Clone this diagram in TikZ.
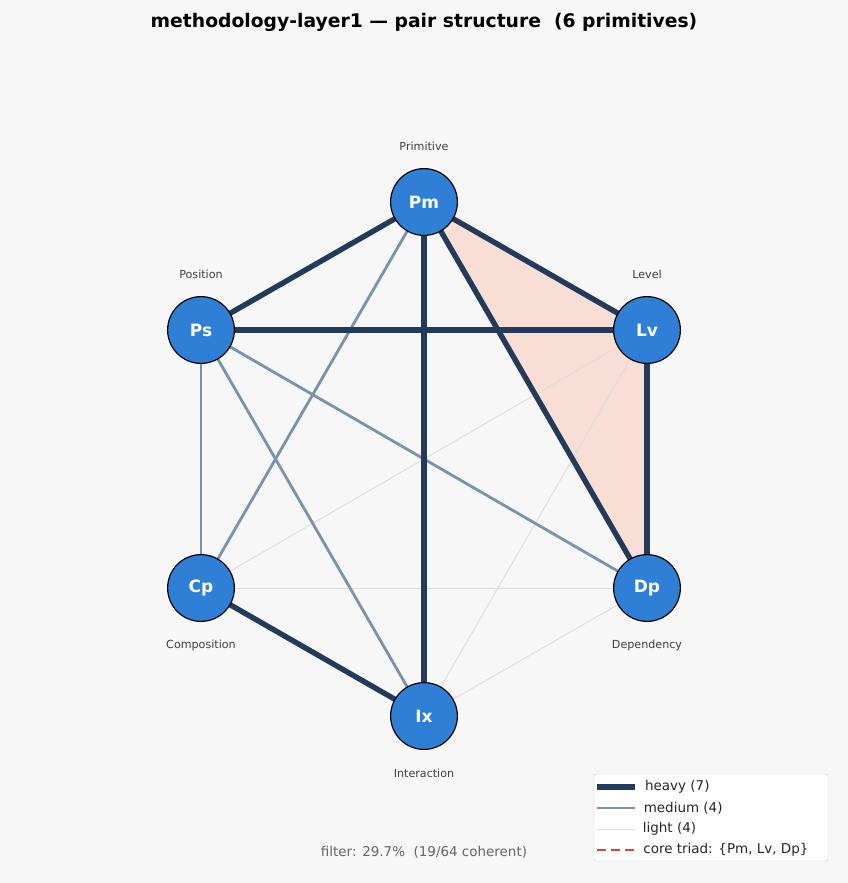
\documentclass[tikz,border=0pt]{standalone}
\usepackage{fontspec}
\setmainfont{DejaVu Sans}
\definecolor{bgc}{HTML}{F7F7F7}
\definecolor{heavyc}{HTML}{233A5A}
\definecolor{mediumc}{HTML}{7A93AD}
\definecolor{lightc}{HTML}{DDDDDD}
\definecolor{nodec}{HTML}{2F7FD6}
\definecolor{triadc}{HTML}{F9DED5}
\definecolor{corec}{HTML}{D9453A}
\begin{document}
\begin{tikzpicture}[x=0.03cm,y=-0.03cm,
  prim/.style={circle,draw=black,line width=1pt,fill=nodec,minimum size=57pt,inner sep=0pt,
    text=white,font=\fontsize{14.5}{16}\selectfont\bfseries},
  primcap/.style={font=\fontsize{9.5}{11}\selectfont,text=black!75},
  heavy/.style={draw=heavyc,line width=4.6pt},
  medium/.style={draw=mediumc,line width=2.4pt},
  light/.style={draw=lightc,line width=0.8pt},
  legtxt/.style={font=\fontsize{11.5}{13}\selectfont,anchor=west,text=black!85}]
\fill [bgc] (0,0) rectangle (848,883);
\useasboundingbox (0,0) rectangle (848,883);
\node [font=\fontsize{16}{18}\selectfont\bfseries] (title) at (424,22) {methodology-layer1 — pair structure\ \ (6 primitives)};
% vertices
\coordinate (pPm) at (424,202);
\coordinate (pPs) at (201,330);
\coordinate (pLv) at (647,330);
\coordinate (pCp) at (201,588);
\coordinate (pDp) at (647,588);
\coordinate (pIx) at (424,716);
\fill [triadc] (pPm) -- (pLv) -- (pDp) -- cycle;
% light
\draw [light] (pLv) -- (pCp);
\draw [light] (pLv) -- (pIx);
\draw [light] (pCp) -- (pDp);
\draw [light] (pDp) -- (pIx);
% medium
\draw [medium] (pPm) -- (pCp);
\draw [medium] (pPs) -- (pCp);
\draw [medium] (pPs) -- (pIx);
\draw [medium] (pPs) -- (pDp);
% heavy
\foreach \a/\b in {Pm/Ps,Pm/Lv,Pm/Ix,Pm/Dp,Ps/Lv,Lv/Dp,Cp/Ix}
  \draw [heavy] (p\a) -- (p\b);
% nodes
\foreach \n in {Pm,Ps,Lv,Cp,Dp,Ix}
  \node [prim] (\n) at (p\n) {\n};
\node [primcap] (cPm) at (424,146) {Primitive};
\node [primcap] (cPs) at (201,274) {Position};
\node [primcap] (cLv) at (647,274) {Level};
\node [primcap] (cCp) at (201,645) {Composition};
\node [primcap] (cDp) at (647,645) {Dependency};
\node [primcap] (cIx) at (424,773) {Interaction};
\node [font=\fontsize{11.5}{13}\selectfont,text=black!60] (filt) at (424,852) {filter: 29.7\%\ \ (19/64 coherent)};
% legend
\draw [black!20,fill=white,rounded corners=2pt] (594,774) rectangle (828,861);
\coordinate (l1) at (597,787);
\coordinate (l2) at (597,808);
\coordinate (l3) at (597,829);
\coordinate (l4) at (597,850);
\draw [heavy] (l1) -- ++(38,0) node [legtxt,xshift=3pt] {heavy (7)};
\draw [medium] (l2) -- ++(38,0) node [legtxt,xshift=3pt] {medium (4)};
\draw [light] (l3) -- ++(38,0) node [legtxt,xshift=3pt] {light (4)};
\draw [corec,line width=1.6pt,dash pattern=on 8pt off 4pt] (l4) -- ++(38,0) node [legtxt,xshift=3pt] {core triad: \{Pm, Lv, Dp\}};
\end{tikzpicture}
\end{document}
